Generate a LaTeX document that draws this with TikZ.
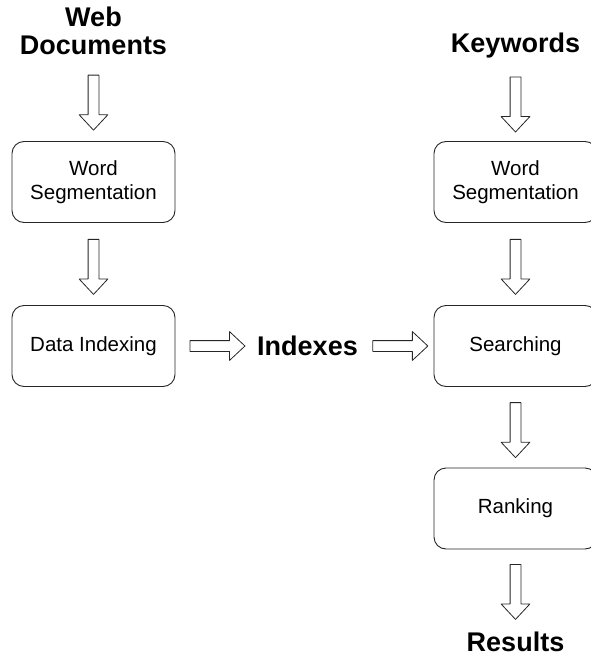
\documentclass[tikz,border=0pt]{standalone}
\usepackage{fontspec}
\setmainfont{Liberation Sans}
\usetikzlibrary{positioning,shapes.arrows}

\begin{document}
\begin{tikzpicture}[node distance=164pt, on grid, line join=round]
	\tikzstyle{stepbox} = [draw=black!85, line width=0.9pt, rectangle, rounded corners=12pt, minimum height=81pt, minimum width=163pt, align=center, font={\fontsize{20.5}{24}\selectfont}]
	\tikzstyle{title} = [align=center, font={\fontsize{27}{28}\selectfont\bfseries}]
	\tikzstyle{bigarrow} = [draw=black!85, line width=0.8pt, fill=white, single arrow, single arrow head extend=9pt, single arrow tip angle=86, minimum height=55pt, inner xsep=0pt, inner ysep=5pt, sloped, allow upside down]

	\useasboundingbox (0,0) rectangle (591pt,-661pt);

	% left column
	\node[stepbox](wsl) at (93.5pt,-182pt) {Word\\Segmentation};
	\node[stepbox](di) [below=of wsl] {Data Indexing};
	\node[title](web) [above=151pt of wsl] {Web\\Documents};

	% right column
	\node[stepbox](sr) [right=422pt of di] {Searching};
	\node[stepbox](wsr) [above=of sr] {Word\\Segmentation};
	\node[stepbox](rk) [below=162.5pt of sr] {Ranking};
	\node[title](kw) [above=136pt of wsr] {Keywords};
	\node[title](res) [below=133.5pt of rk] {Results};

	\node[title](idx) [right=214pt of di] {Indexes};

	\path
	(web) -- node[bigarrow] {} (wsl)
	(wsl) -- node[bigarrow] {} (di)
	(di) -- node[bigarrow] {} (idx)
	(idx) -- node[bigarrow] {} (sr)
	(kw) -- node[bigarrow] {} (wsr)
	(wsr) -- node[bigarrow] {} (sr)
	(sr) -- node[bigarrow] {} (rk)
	(rk) -- node[bigarrow] {} (res);
\end{tikzpicture}
\end{document}
